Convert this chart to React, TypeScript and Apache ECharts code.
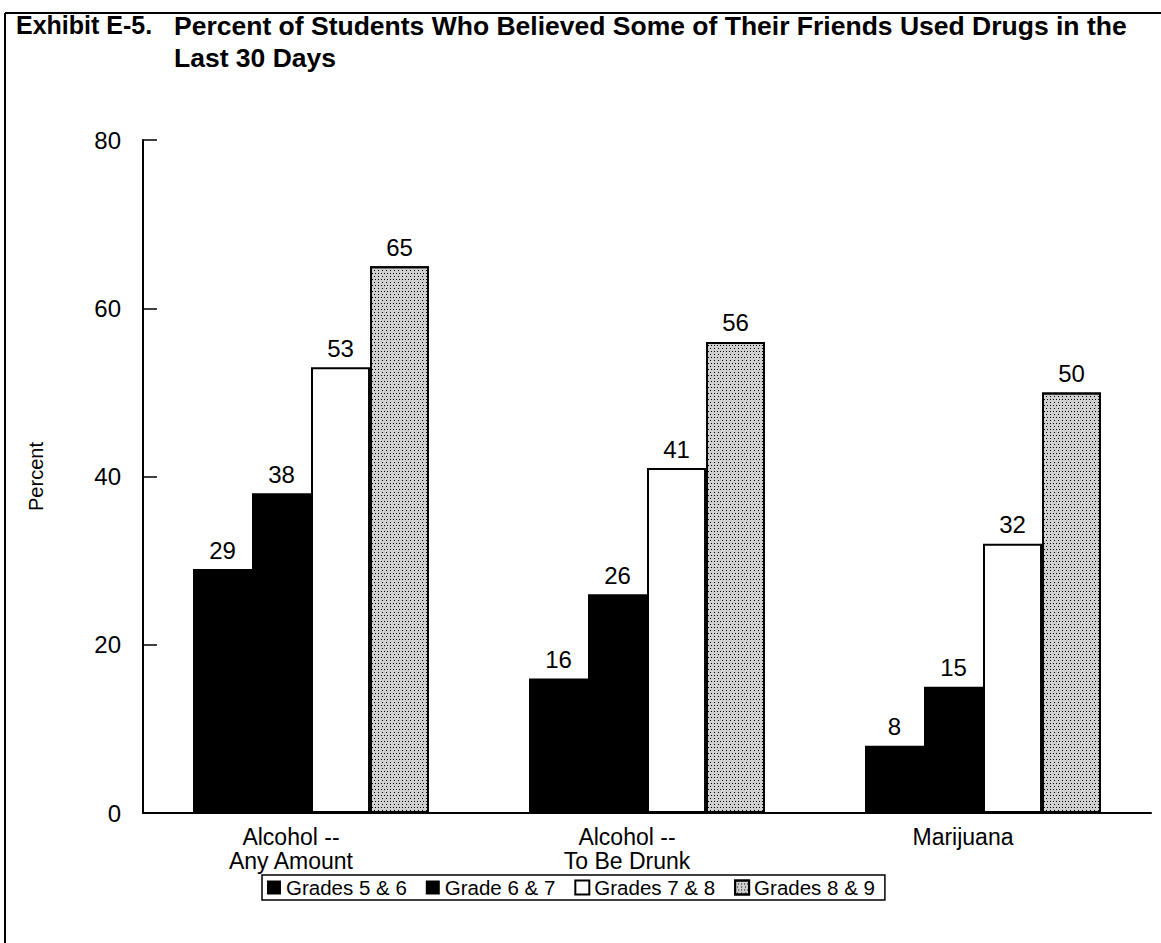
import React, { useEffect, useRef } from "react";
import * as echarts from "echarts";

const categories = ["Alcohol --\nAny Amount", "Alcohol --\nTo Be Drunk", "Marijuana"];
const seriesNames = ["Grades 5 & 6", "Grade 6 & 7", "Grades 7 & 8", "Grades 8 & 9"];
const grades56 = [29, 16, 8];
const grades67 = [38, 26, 15];
const grades78 = [53, 41, 32];
const grades89 = [65, 56, 50];
const yTicks = { min: 0, max: 80, interval: 20 };

const FONT = "'Liberation Sans', Arial, Helvetica, sans-serif";

export default function App() {
  const ref = useRef<HTMLDivElement>(null);
  useEffect(() => {
    if (!ref.current) return;
    const chart = echarts.init(ref.current, null, { renderer: "svg" });
    const label = {
      show: true,
      position: "top" as const,
      distance: 7,
      color: "#000",
      fontFamily: FONT,
      fontSize: 24,
    };
    const dotted = {
      symbol: "rect",
      symbolSize: 1,
      color: "#000",
      backgroundColor: "#fff",
      dashArrayX: [[1, 2], [0, 1.5, 1, 0.5]],
      dashArrayY: [1, 1.5],
      rotation: 0,
    };
    const styles: any[] = [
      { color: "#000", borderColor: "#000", borderWidth: 0 },
      { color: "#000", borderColor: "#000", borderWidth: 0 },
      { color: "#fff", borderColor: "#000", borderWidth: 2 },
      { color: "#d0d0d0", borderColor: "#000", borderWidth: 2, decal: dotted },
    ];
    const values = [grades56, grades67, grades78, grades89];
    chart.setOption({
      animation: false,
      backgroundColor: "#fff",
      textStyle: { fontFamily: FONT, color: "#000" },
      graphic: [
        { type: "line", shape: { x1: 5, y1: 13, x2: 1161, y2: 13 }, style: { stroke: "#000", lineWidth: 2 } },
        { type: "line", shape: { x1: 5, y1: 13, x2: 5, y2: 943 }, style: { stroke: "#000", lineWidth: 2 } },
        {
          type: "text",
          left: 16,
          top: 12,
          style: { text: "Exhibit E-5.", fontFamily: FONT, fontWeight: "bold", fontSize: 25, fill: "#000" },
        },
        {
          type: "text",
          left: 174,
          top: 10,
          style: {
            text: "Percent of Students Who Believed Some of Their Friends Used Drugs in the\nLast 30 Days",
            fontFamily: FONT,
            fontWeight: "bold",
            fontSize: 26.5,
            lineHeight: 32,
            fill: "#000",
          },
        },
      ],
      grid: { left: 143, right: 10, top: 140, bottom: 130, containLabel: false },
      legend: {
        left: 262,
        top: 875,
        orient: "horizontal",
        icon: "rect",
        itemWidth: 14,
        itemHeight: 14,
        itemGap: 19,
        borderColor: "#000",
        borderWidth: 1.5,
        padding: [2, 10, 2, 5],
        textStyle: { fontFamily: FONT, fontSize: 20.5, color: "#000" },
        data: seriesNames,
      },
      xAxis: {
        type: "category",
        data: categories,
        axisLine: { lineStyle: { color: "#000", width: 2 } },
        axisTick: { show: false },
        axisLabel: { color: "#000", fontFamily: FONT, fontSize: 23, lineHeight: 24, margin: 12, padding: [0, 40, 0, 0] },
      },
      yAxis: {
        type: "value",
        min: yTicks.min,
        max: yTicks.max,
        interval: yTicks.interval,
        name: "Percent",
        nameLocation: "middle",
        nameGap: 97,
        nameRotate: 90,
        nameTextStyle: { fontFamily: FONT, fontSize: 20, color: "#000" },
        axisLine: { show: true, lineStyle: { color: "#000", width: 2 } },
        axisTick: { show: true, inside: true, length: 14, lineStyle: { color: "#000", width: 1.5 } },
        axisLabel: { color: "#000", fontFamily: FONT, fontSize: 24, margin: 22 },
        splitLine: { show: false },
      },
      series: values.map((v, i) => ({
        type: "bar",
        name: seriesNames[i],
        data: v,
        barWidth: 59,
        barGap: "0%",
        itemStyle: styles[i],
        label,
      })),
    });
    return () => chart.dispose();
  }, []);
  return <div ref={ref} style={{ position: "fixed", left: 0, top: 0, width: 1161, height: 943 }} />;
}
